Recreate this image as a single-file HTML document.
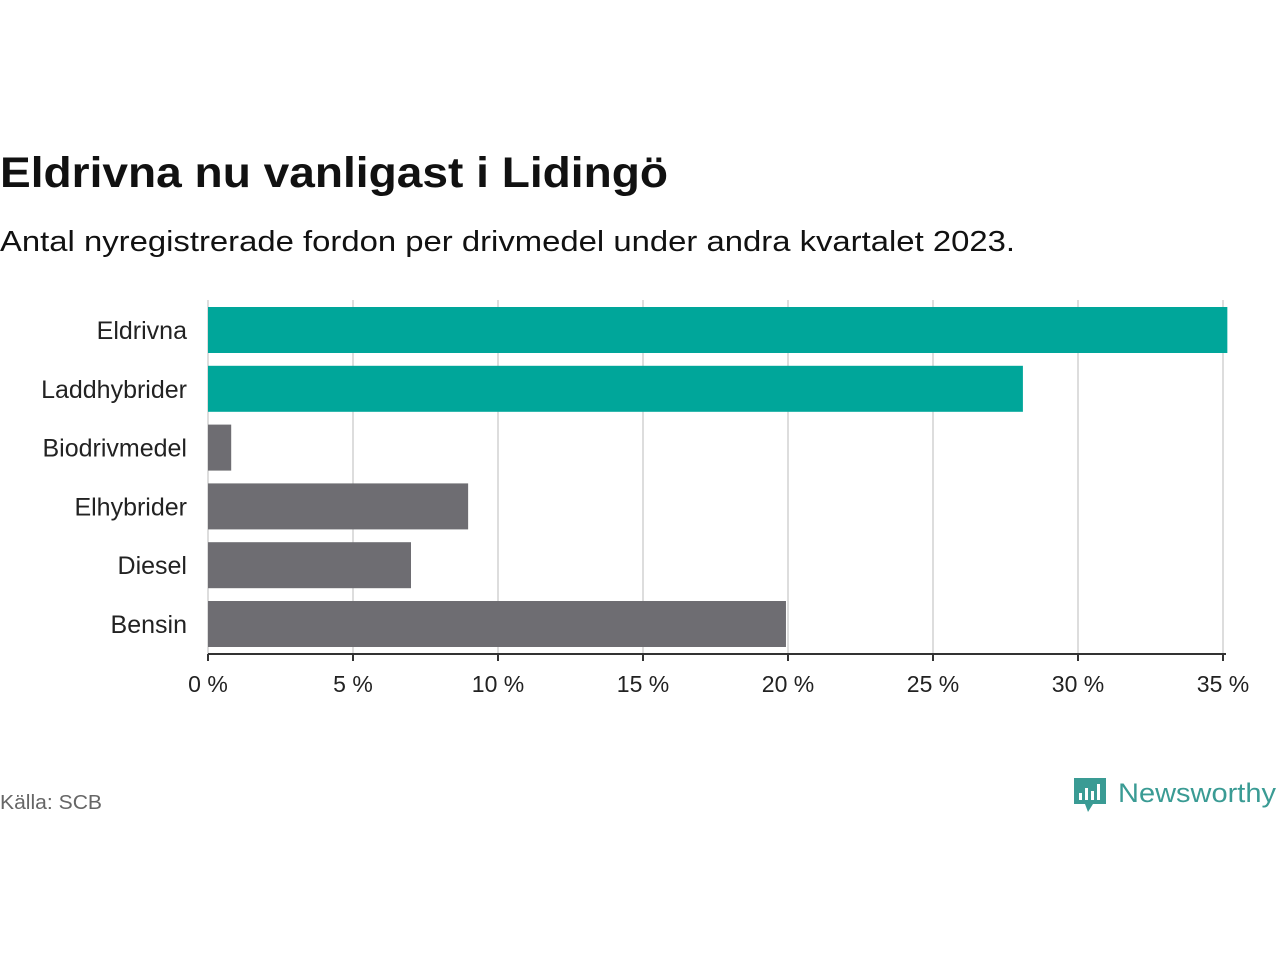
<!DOCTYPE html>
<html><head><meta charset="utf-8"><style>
body{margin:0;background:#fff;width:1280px;height:960px;overflow:hidden;font-family:"Liberation Sans",sans-serif}
</style></head><body>
<svg width="1280" height="960">
<text x="0" y="187" font-size="43" font-weight="bold" fill="#111" textLength="668" lengthAdjust="spacingAndGlyphs">Eldrivna nu vanligast i Lidingö</text>
<text x="0" y="251" font-size="29" fill="#111" textLength="1015" lengthAdjust="spacingAndGlyphs">Antal nyregistrerade fordon per drivmedel under andra kvartalet 2023.</text>
<g id="grid"></g><g id="bars"></g><g id="labels"></g><g id="ticks"></g>
<text x="0" y="809" font-size="20" fill="#666" textLength="102" lengthAdjust="spacingAndGlyphs">Källa: SCB</text>
<g>
<path d="M1074 778h32v26h-13l-5 8-3-8h-11z" fill="#3a9b94"/>
<rect x="1079" y="793" width="3" height="7" fill="#fff"/><rect x="1085" y="788" width="3" height="12" fill="#fff"/><rect x="1091" y="791" width="3" height="9" fill="#fff"/><rect x="1097" y="784" width="3" height="16" fill="#fff"/>
<text x="1118" y="802" font-size="27" fill="#3a9b94" textLength="158" lengthAdjust="spacingAndGlyphs">Newsworthy</text>
</g>
</svg>
<script>
const categories=["Eldrivna","Laddhybrider","Biodrivmedel","Elhybrider","Diesel","Bensin"];
const values=[35.15,28.1,0.8,8.97,7.0,19.93];
const highlight=[true,true,false,false,false,false];
const ticks=[0,5,10,15,20,25,30,35];
const ns="http://www.w3.org/2000/svg";
const x=v=>208+v*29;
const y=i=>307+i*58.8;
function mk(t,a,p){const e=document.createElementNS(ns,t);for(const k in a)e.setAttribute(k,a[k]);document.getElementById(p).appendChild(e);return e;}
ticks.forEach(t=>{
 if(t>0){const g=mk("line",{x1:x(t),x2:x(t),y1:300,y2:654,stroke:"#ddd","stroke-width":2},"grid");
 
 }
 const tk=mk("line",{x1:x(t),x2:x(t),y1:654,y2:661,stroke:"#333","stroke-width":2},"ticks");
 
 
 const l=mk("text",{x:x(t),y:692,"font-size":23,fill:"#222","text-anchor":"middle"},"ticks");
 l.textContent=t+" %";
 
 
});
const ax=mk("line",{x1:208,x2:1226,y1:654,y2:654,stroke:"#333","stroke-width":2},"ticks");


const yl=mk("line",{x1:208,x2:208,y1:300,y2:654,stroke:"#ddd","stroke-width":2},"grid");


categories.forEach((c,i)=>{
 const r=mk("rect",{x:208,y:y(i),width:x(values[i])-208,height:46,fill:highlight[i]?"#00a69a":"#6e6d72"},"bars");
 
 
 const t=mk("text",{x:187,y:y(i)+32,"font-size":25,fill:"#222","text-anchor":"end"},"labels");
 t.textContent=c;
 
 
});
</script>
</body></html>
